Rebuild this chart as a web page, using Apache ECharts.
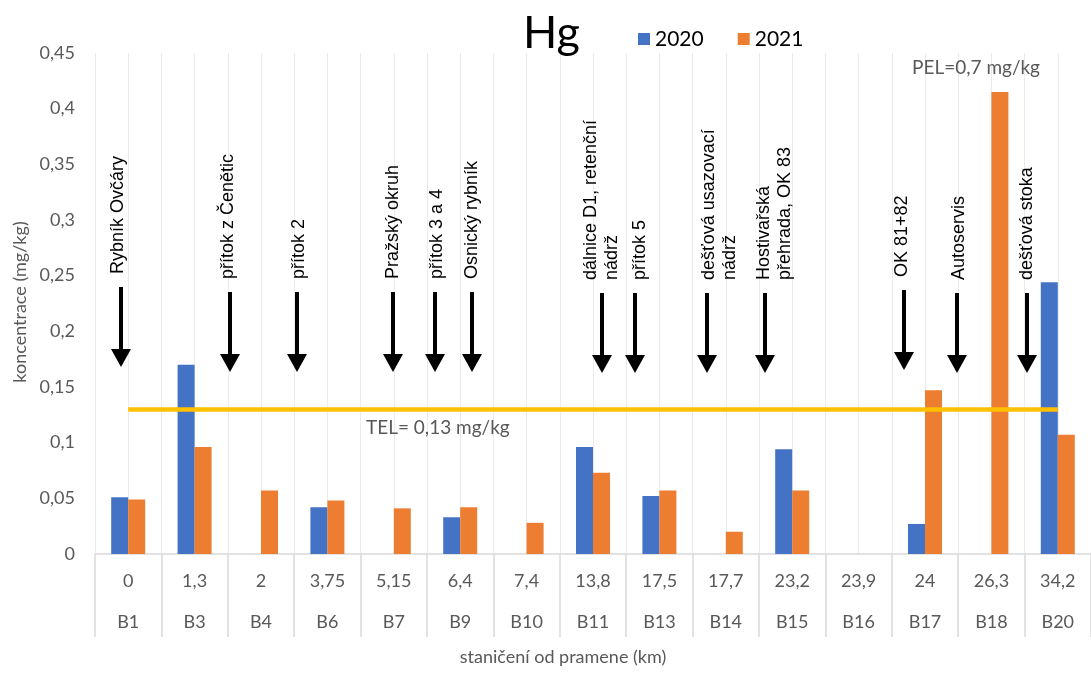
<!DOCTYPE html>
<html>
<head>
<meta charset="utf-8">
<script src="https://cdn.jsdelivr.net/npm/echarts@6/dist/echarts.min.js"></script>
<style>
  html, body { margin: 0; padding: 0; background: #fff; }
  #chart { width: 1091px; height: 673px; }
</style>
</head>
<body>
<div id="chart"></div>
<script>
// Sampling stations: distance from the source (km) and station code
const km = ['0', '1,3', '2', '3,75', '5,15', '6,4', '7,4', '13,8', '17,5', '17,7', '23,2', '23,9', '24', '26,3', '34,2'];
const sites = ['B1', 'B3', 'B4', 'B6', 'B7', 'B9', 'B10', 'B11', 'B13', 'B14', 'B15', 'B16', 'B17', 'B18', 'B20'];

// Hg concentration in sediment (mg/kg)
const hg2020 = [0.051, 0.170, null, 0.042, null, 0.033, null, 0.096, 0.052, null, 0.094, null, 0.027, null, 0.244];
const hg2021 = [0.049, 0.096, 0.057, 0.048, 0.041, 0.042, 0.028, 0.073, 0.057, 0.020, 0.057, null, 0.147, 0.415, 0.107];

// Threshold effect level (mg/kg)
const TEL = 0.13;

// Inflows / sources along the stream
const notes = ['Rybník Ovčáry', 'přítok z Čenětic', 'přítok 2', 'Pražský okruh', 'přítok 3 a 4', 'Osnický rybník',
  'dálnice D1, retenční\nnádrž', 'přítok 5', 'dešťová usazovací\nnádrž', 'Hostivařská\npřehrada, OK 83',
  'OK 81+82', 'Autoservis', 'dešťová stoka'];

// Layout of the annotations: arrow x, text x (px), arrow top
const noteLayout = [
  [121, 118, 287], [230, 228, 292], [297, 299, 292], [393, 393, 292], [435, 437, 292], [472, 472, 292],
  [602, 602, 293], [635, 640, 293], [707, 720, 293], [765, 775, 293],
  [904, 902, 290], [957, 959, 293], [1027, 1027, 293]
];

const GRID = { left: 95, right: 0, top: 53, bottom: 119 };
const LATO = 'Lato, "Open Sans", sans-serif';
const GREY = '#595959';

const fmtNum = v => String(+v.toFixed(2)).replace('.', ',');

const graphics = [];
notes.forEach((t, i) => {
  const [ax, tx, top] = noteLayout[i];
  const tip = top + 80;
  graphics.push({
    type: 'line', silent: true, z: 100,
    shape: { x1: ax, y1: top, x2: ax, y2: tip - 16 },
    style: { stroke: '#000', lineWidth: 4 }
  });
  graphics.push({
    type: 'polygon', silent: true, z: 100,
    shape: { points: [[ax - 10, tip - 18], [ax + 10, tip - 18], [ax, tip]] },
    style: { fill: '#000' }
  });
  graphics.push({
    type: 'text', silent: true, z: 100,
    x: tx, y: top - 13, rotation: Math.PI / 2,
    style: {
      text: t, fill: '#000', fontSize: 18, lineHeight: 21,
      fontFamily: '"Liberation Sans", Arial, sans-serif',
      align: 'left', verticalAlign: 'middle'
    }
  });
});

// Axis names and threshold captions
graphics.push(
  {
    type: 'text', silent: true, z: 100, x: 20, y: 302, rotation: Math.PI / 2,
    style: { text: 'koncentrace (mg/kg)', fill: GREY, fontSize: 18, fontFamily: LATO, align: 'center', verticalAlign: 'middle' }
  },
  {
    type: 'text', silent: true, z: 100, x: 563, y: 657,
    style: { text: 'staničení od pramene (km)', fill: GREY, fontSize: 18, fontFamily: LATO, align: 'center', verticalAlign: 'middle' }
  },
  {
    type: 'text', silent: true, z: 100, x: 366, y: 428,
    style: { text: 'TEL= ' + fmtNum(TEL) + ' mg/kg', fill: GREY, fontSize: 19, fontFamily: LATO, align: 'left', verticalAlign: 'middle' }
  },
  {
    type: 'text', silent: true, z: 100, x: 912, y: 68,
    style: { text: 'PEL=0,7 mg/kg', fill: GREY, fontSize: 19, fontFamily: LATO, align: 'left', verticalAlign: 'middle' }
  }
);

const chart = echarts.init(document.getElementById('chart'), null, { renderer: 'canvas' });
chart.setOption({
  animation: false,
  backgroundColor: '#fff',
  title: {
    text: 'Hg', left: 523, top: 11, padding: 0,
    textStyle: { fontFamily: LATO, fontSize: 45, fontWeight: 'normal', color: '#000' }
  },
  legend: {
    left: 638, top: 28, padding: 0,
    icon: 'rect', itemWidth: 12, itemHeight: 12, itemGap: 34,
    textStyle: { fontFamily: LATO, fontSize: 21, color: '#000', lineHeight: 22 },
    data: ['2020', '2021']
  },
  grid: GRID,
  xAxis: [
    {
      type: 'category', data: sites, position: 'bottom',
      axisLine: { lineStyle: { color: '#d9d9d9', width: 1.5 } },
      axisTick: { show: true, interval: 0, length: 83, lineStyle: { color: '#d9d9d9', width: 1.5 } },
      axisLabel: {
        interval: 0, margin: 7, lineHeight: 41,
        fontFamily: LATO, fontSize: 18, color: GREY,
        formatter: (v, i) => km[i] + '\n' + v
      },
      splitLine: { show: false }
    },
    {
      // half-category vertical gridlines
      type: 'category', position: 'bottom',
      data: Array.from({ length: sites.length * 2 }, (_, i) => 'g' + i),
      axisLine: { show: false }, axisTick: { show: false }, axisLabel: { show: false },
      splitLine: { show: true, interval: 0, lineStyle: { color: '#ebebeb', width: 1 } }
    }
  ],
  yAxis: {
    type: 'value', min: 0, max: 0.45, interval: 0.05,
    axisLine: { show: false }, axisTick: { show: false },
    splitLine: { show: false },
    axisLabel: { margin: 20, fontFamily: LATO, fontSize: 18, color: GREY, formatter: fmtNum }
  },
  series: [
    {
      name: '2020', type: 'bar', data: hg2020, barWidth: 17, barGap: '0%',
      itemStyle: { color: '#4472C4' }
    },
    {
      name: '2021', type: 'bar', data: hg2021, barWidth: 17, barGap: '0%',
      itemStyle: { color: '#ED7D31' }
    },
    {
      // TEL threshold across the stations
      name: 'TEL', type: 'line', data: [], z: 5,
      markLine: {
        silent: true, symbol: 'none', label: { show: false },
        lineStyle: { color: '#FFC000', width: 4.5, type: 'solid' },
        data: [[{ coord: [sites[0], TEL] }, { coord: [sites[sites.length - 1], TEL] }]]
      }
    }
  ],
  graphic: graphics
});
</script>
</body>
</html>
